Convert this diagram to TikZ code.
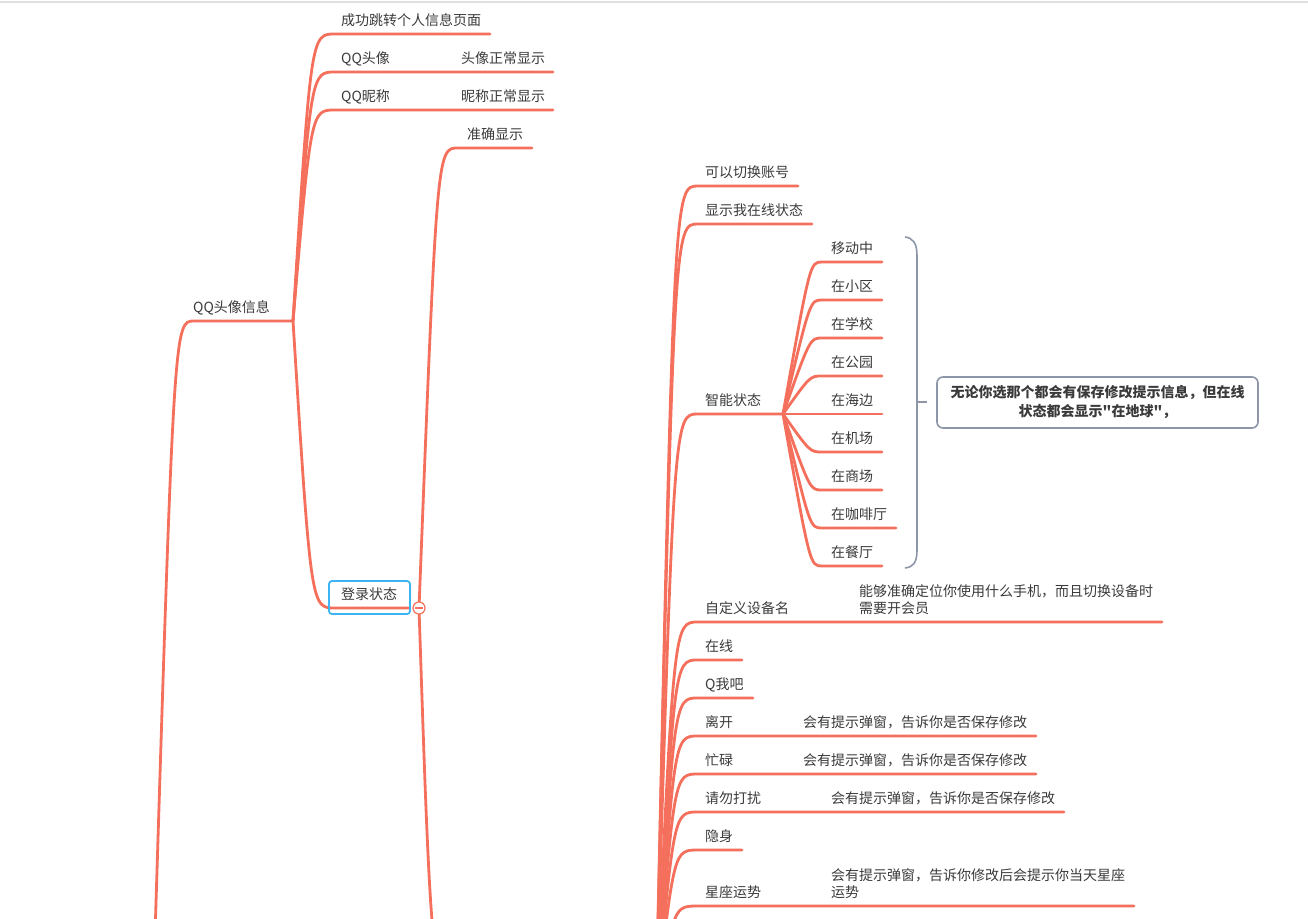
\documentclass[tikz,border=0pt]{standalone}
\usepackage{fontspec}
\usepackage{tikz}
\usetikzlibrary{calc}
\newfontfamily\cjk{Noto Sans CJK SC}
\definecolor{mmline}{HTML}{F46F5C}
\definecolor{mmtext}{HTML}{3A3A3A}
\definecolor{mmblue}{HTML}{3DB4F2}
\definecolor{mmgray}{HTML}{8C96A8}
\newcommand{\mmlink}[4][18]{\draw[branch] let \p1=(#2), \p2=(#3) in (#2) .. controls (\x1+#1pt,\y2) .. (#3) -- (#4);}

\begin{document}
\begin{tikzpicture}[x=1pt,y=-1pt,
  txt/.style={anchor=base west, inner sep=0pt, font=\cjk\fontsize{14}{17}\selectfont, text=mmtext},
  branch/.style={draw=mmline, line width=2.8pt, line cap=round}]
  \useasboundingbox (0,0) rectangle (1308,918);
  \clip (0,0) rectangle (1308,918);
  \draw[black!12, line width=2pt] (0,1.5) -- (1308,1.5);

  % QQ头像信息
  \coordinate (root) at (153,1000);
  \coordinate (qqinfo-l) at (194,321);
  \coordinate (qqinfo-r) at (293,321);
  \node[txt] (qqinfo) at (193,312) {QQ头像信息};
  \mmlink[21]{root}{qqinfo-l}{qqinfo-r}

  \foreach \nm/\yy/\ee/\lbl in {jump/34/490/成功跳转个人信息页面, avatar/72/553/QQ头像,
      nick/110/553/QQ昵称, login/608/410/登录状态}{
    \coordinate (\nm-l) at (335,\yy);
    \coordinate (\nm-r) at (\ee,\yy);
    \node[txt] (\nm) at (341,\yy-9) {\lbl};
    \mmlink{qqinfo-r}{\nm-l}{\nm-r}
  }
  \node[txt] (avatarok) at (461,63) {头像正常显示};
  \node[txt] (nickok) at (461,101) {昵称正常显示};
  \draw[mmblue, line width=1.8pt, rounded corners=3pt] (329,581) rectangle (410,614);

  % 登录状态
  \coordinate (fold) at (419,608);
  \coordinate (exact-l) at (458,148);
  \coordinate (exact-r) at (532,148);
  \node[txt] (exact) at (467,139) {准确显示};
  \mmlink{fold}{exact-l}{exact-r}
  \coordinate (below-l) at (470,1000);
  \coordinate (below-r) at (520,1000);
  \mmlink[13]{fold}{below-l}{below-r}
  \node[circle, draw=mmline, fill=white, line width=1.2pt, minimum size=12pt, inner sep=0pt] (foldbtn) at (fold) {};
  \draw[mmline, line width=1.2pt] ($(foldbtn.west)+(3,0)$) -- ($(foldbtn.east)+(-3,0)$);

  % 在线状态
  \coordinate (status) at (656,1010);
  \foreach \nm/\yy/\ee/\lbl in {switch/186/798/可以切换账号, show/224/812/显示我在线状态,
      smart/414/783/智能状态, device/622/1162/自定义设备名, online/660/742/在线,
      qme/698/753/Q我吧, away/736/1036/离开, busy/774/1036/忙碌,
      dnd/812/1064/请勿打扰, hide/850/742/隐身, star/906/1134/星座运势}{
    \coordinate (\nm-l) at (698,\yy);
    \coordinate (\nm-r) at (\ee,\yy);
    \node[txt] (\nm) at (705,\yy-9) {\lbl};
    \mmlink{status}{\nm-l}{\nm-r}
  }
  \node[txt, align=left] (devnote) at (859,613) {能够准确定位你使用什么手机，而且切换设备时\\需要开会员};
  \node[txt] (awaynote) at (803,727) {会有提示弹窗，告诉你是否保存修改};
  \node[txt] (busynote) at (803,765) {会有提示弹窗，告诉你是否保存修改};
  \node[txt] (dndnote) at (831,803) {会有提示弹窗，告诉你是否保存修改};
  \node[txt, align=left] (starnote) at (831,897) {会有提示弹窗，告诉你修改后会提示你当天星座\\运势};

  % 智能状态
  \foreach \nm/\yy/\ee/\lbl in {move/262/882/移动中, area/300/882/在小区, school/338/882/在学校,
      park/376/882/在公园, sea/414/882/在海边, airport/452/882/在机场,
      mall/490/882/在商场, cafe/528/896/在咖啡厅, rest/566/882/在餐厅}{
    \coordinate (\nm-l) at (822,\yy);
    \coordinate (\nm-r) at (\ee,\yy);
    \node[txt] (\nm) at (831,\yy-9) {\lbl};
    \mmlink[27]{smart-r}{\nm-l}{\nm-r}
  }

  % summary
  \draw[mmgray, line width=1.6pt] (905,237) .. controls (913,238) and (917,243) .. (917,256)
    -- (917,550) .. controls (917,563) and (913,567) .. (905,568);
  \coordinate (brace) at (917,402);
  \node[draw=mmgray, line width=1.6pt, rounded corners=6pt, minimum width=321pt, minimum height=51pt,
    align=center, text=mmtext, font=\cjk\bfseries\fontsize{14}{19}\selectfont] (summary) at (1097.5,402.5)
    {无论你选那个都会有保存修改提示信息，但在线\\状态都会显示"在地球"，};
  \draw[mmgray, line width=1.6pt] (brace) -- ++(10,0);
\end{tikzpicture}
\end{document}
